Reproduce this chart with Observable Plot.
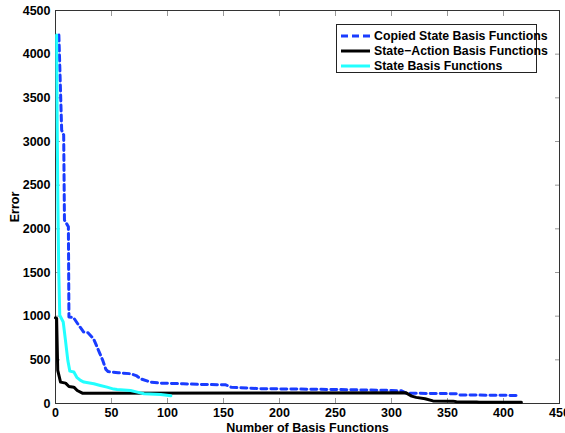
<!DOCTYPE html>
<html><head><meta charset="utf-8">
<script src="https://cdn.jsdelivr.net/npm/d3@7"></script>
<script src="https://cdn.jsdelivr.net/npm/@observablehq/plot@0.6"></script>
<style>
body{margin:0;background:#fff;}
#wrap{position:relative;width:565px;height:433px;}
#wrap svg g[aria-label$="tick label"], #wrap svg g[aria-label$="label"]{opacity:1 !important;fill-opacity:1 !important;fill:#000 !important;}
#wrap svg text{font-weight:bold !important;fill:#000 !important;fill-opacity:1 !important;opacity:1 !important;stroke:none !important;}
#legend{position:absolute;left:336px;top:24px;width:199px;height:47px;border:1px solid #222;background:#fff;font:bold 12.3px "Liberation Sans",Arial,sans-serif;color:#000;}
.row{position:absolute;left:4px;height:15px;display:flex;align-items:center;white-space:nowrap;}
.row svg{margin-right:4px;}
</style></head><body><div id="wrap"><div id="legend"></div></div>
<script>
// ---- data ----
const seriesNames = ["Copied State Basis Functions", "State\u2212Action Basis Functions", "State Basis Functions"];
const seriesColors = ["#1a3cff", "#000000", "#22ffff"];

const copiedX = [3, 5.5, 7.3, 8, 11.5, 12, 16, 20, 25, 29, 34, 38, 42, 45, 47, 56, 67, 72, 76, 85, 94, 114, 130, 152, 157, 183, 250, 300, 309, 313, 358, 361, 414];
const copiedY = [4220, 3130, 3075, 2100, 2025, 990, 985, 910, 820, 810, 740, 620, 500, 390, 365, 352, 341, 320, 283, 245, 233, 226, 218, 214, 185, 170, 160, 150, 145, 118, 112, 98, 92];

const stateActionX = [0, 1, 2, 4.5, 9, 12, 16.4, 19.4, 24, 313, 318, 322, 330, 337, 355, 358, 376, 378, 416];
const stateActionY = [980, 975, 380, 245, 233, 195, 187, 149, 118, 122, 85, 70, 55, 30, 27, 20, 18, 14, 14];

const stateX = [1, 1.5, 2.1, 2.9, 3.8, 6.9, 8.9, 11, 12.8, 16.4, 19, 22.3, 25.3, 34.2, 40, 46, 52, 55, 67, 73, 79, 94, 103];
const stateY = [4220, 3200, 2330, 1507, 1010, 933, 723, 494, 371, 360, 300, 264, 245, 226, 207, 187, 165, 160, 149, 130, 111, 103, 88];

const xTicks = [0, 50, 100, 150, 200, 250, 300, 350, 400, 450];
const yTicks = [0, 500, 1000, 1500, 2000, 2500, 3000, 3500, 4000, 4500];

const toRows = (xs, ys) => xs.map((x, i) => ({x, y: ys[i]}));
const copied = toRows(copiedX, copiedY);
const stateAction = toRows(stateActionX, stateActionY);
const state = toRows(stateX, stateY);

const fmt = d => String(d);
const blank = () => "";

const chart = Plot.plot({
  width: 565,
  height: 433,
  marginLeft: 55,
  marginRight: 6,
  marginTop: 10,
  marginBottom: 30,
  style: {fontFamily: '"Liberation Sans", Arial, sans-serif', fontWeight: "bold", fontSize: "12.5px", color: "#000", background: "#fff"},
  x: {domain: [0, 450]},
  y: {domain: [0, 4500]},
  marks: [
    Plot.axisX(xTicks, {anchor: "bottom", tickSize: 0, tickPadding: 5, tickFormat: fmt, fill: "#000", fontWeight: "bold", label: "Number of Basis Functions", labelAnchor: "center", labelOffset: 28, labelArrow: false}),
    Plot.axisX(xTicks, {anchor: "bottom", tickSize: -5, tickFormat: blank, label: null, stroke: "#999"}),
    Plot.axisX(xTicks, {anchor: "top", tickSize: -5, tickFormat: blank, label: null, stroke: "#999"}),
    Plot.axisY(yTicks, {anchor: "left", tickSize: 0, tickPadding: 5, tickFormat: fmt, fill: "#000", fontWeight: "bold", label: "Error", labelAnchor: "center", labelOffset: 45, labelArrow: false}),
    Plot.axisY(yTicks, {anchor: "left", tickSize: -5, tickFormat: blank, label: null, stroke: "#999"}),
    Plot.axisY(yTicks, {anchor: "right", tickSize: -5, tickFormat: blank, label: null, stroke: "#999"}),
    Plot.frame({stroke: "#333"}),
    Plot.line(copied, {x: "x", y: "y", stroke: seriesColors[0], strokeWidth: 3, strokeDasharray: "6,4"}),
    Plot.line(stateAction, {x: "x", y: "y", stroke: seriesColors[1], strokeWidth: 3}),
    Plot.line(state, {x: "x", y: "y", stroke: seriesColors[2], strokeWidth: 3})
  ]
});
document.getElementById("wrap").prepend(chart);

// legend
const legend = document.getElementById("legend");
seriesNames.forEach((name, i) => {
  const row = document.createElement("div");
  row.className = "row";
  row.style.top = (3 + i * 15) + "px";
  const dash = i === 0 ? 'stroke-dasharray="7,4"' : "";
  row.innerHTML = `<svg width="29" height="6"><line x1="0" x2="29" y1="3" y2="3" stroke="${seriesColors[i]}" stroke-width="3" ${dash}/></svg><span>${name}</span>`;
  legend.appendChild(row);
});
</script>
</body></html>
